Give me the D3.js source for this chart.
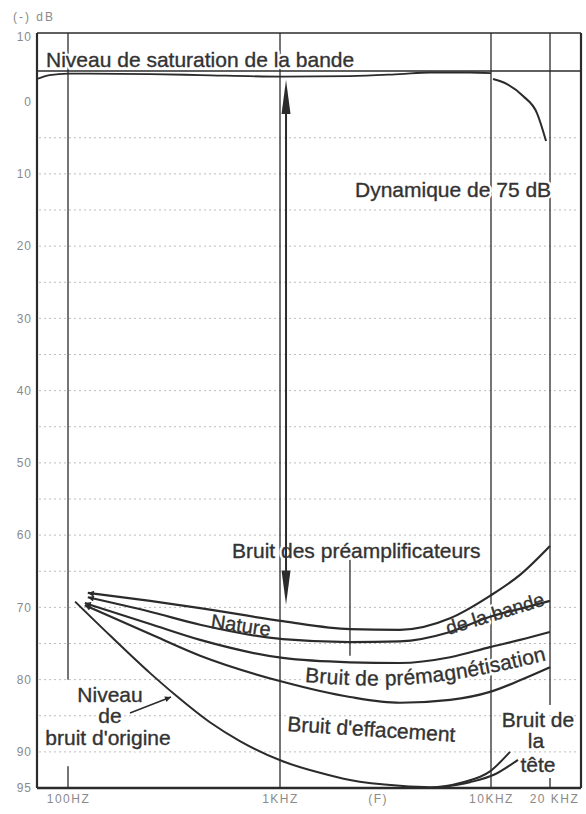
<!DOCTYPE html>
<html><head><meta charset="utf-8">
<script src="https://cdn.jsdelivr.net/npm/d3@7"></script>
<style>
body{margin:0;background:#fff}
svg{display:block}
text{font-family:"Liberation Sans",Arial,Helvetica,sans-serif}
</style>
</head><body>
<svg id="c" width="586" height="814"></svg>
<script>
// ---------- data ----------
const yTickValues = [-9, 0, 10, 20, 30, 40, 50, 60, 70, 80, 90, 95];
const yTickLabels = ["10", "0", "10", "20", "30", "40", "50", "60", "70", "80", "90", "95"];
const xTickValues = [100, 1000, 2900, 10000, 20000];
const xTickLabels = ["100HZ", "1KHZ", "(F)", "10KHZ", "20 KHZ"];
const gridDb = [5, 10, 15, 20, 25, 30, 35, 40, 45, 50, 55, 60, 65, 70, 75, 80, 85, 90];

// vertical reference lines: frequency and dB extents (segments)
const vFreqs = [100, 100, 1000, 10000, 20000, 20000, 2146];
const vFrom  = [-9.5, 92, -9.5, -9.5, -9.5, 93.6, 63.4];
const vTo    = [80, 95, 95, 95, 83.5, 95, 76.7];

// saturation level of the tape
const satRefDb = -4.24;
const satFreq = [71.6, 82, 100, 244, 420, 1030, 2146, 3700, 5140, 7950, 10000];
const satDb   = [-3.13, -3.68, -3.89, -3.82, -3.68, -3.47, -3.54, -3.82, -4.03, -4.03, -3.96];
const satDropFreq = [10240, 12070, 14570, 17160, 19090];
const satDropDb   = [-3.13, -2.44, -0.78, 1.58, 5.45];

// noise curves
const noiseFreq  = [124, 244, 420, 1030, 2146, 3700, 6400, 9890, 14060, 20000];
const preampDb   = [68.0, 69.1, 70.1, 71.9, 73.0, 73.1, 71.5, 68.4, 65.5, 61.5];
const tapeDb     = [68.6, 70.6, 72.4, 74.4, 74.8, 74.7, 73.4, 71.3, 70.2, 69.1];
const biasFreq   = [120, 244, 420, 1030, 2146, 3700, 6400, 9890, 14060, 20000];
const biasHiDb   = [69.4, 72.3, 74.5, 77.0, 77.6, 77.7, 76.9, 75.5, 74.5, 73.4];
const biasLoDb   = [69.7, 73.7, 76.7, 80.3, 82.4, 83.2, 82.8, 81.7, 80.1, 78.3];
const eraseFreq  = [108, 158, 244, 320, 467, 647, 1030, 1547, 2146, 3700, 5140, 7130, 9890, 12500];
const eraseDb    = [69.2, 73.9, 79.1, 82.1, 85.9, 88.5, 91.3, 92.9, 93.9, 94.7, 94.9, 94.3, 92.7, 90.0];
const headFreq   = [5730, 7950, 10480, 13730];
const headDb     = [94.9, 94.2, 93.1, 91.1];

// dynamic range arrow (dB)
const dynFreq = 1068;
const dynDb = [-3.0, 69.6];

// ---------- drawing ----------
const svg = d3.select("#c");
const ink = "#2b2b2b";
const x = d3.scaleLog().domain([71.6, 100, 1000, 10000, 20000, 28780]).range([37, 68, 280, 491, 550, 581]);
const y = d3.scaleLinear().domain([-9.5, 95]).range([33, 788]);
const X0 = x.range()[0], X1 = x.range()[x.range().length - 1];
const Y0 = y.range()[0], Y1 = y.range()[1];

svg.append("rect").attr("width", 586).attr("height", 814).attr("fill", "#fff");

const defs = svg.append("defs");
defs.append("marker").attr("id", "ah").attr("viewBox", "0 0 10 10")
  .attr("refX", 10).attr("refY", 5).attr("markerWidth", 9).attr("markerHeight", 6)
  .attr("markerUnits", "userSpaceOnUse").attr("orient", "auto-start-reverse")
  .append("path").attr("d", "M0,0 L10,5 L0,10 z").attr("fill", ink);

// dotted grid
svg.append("g").selectAll("line").data(gridDb).join("line")
  .attr("x1", X0 + 2).attr("x2", X1 - 2)
  .attr("y1", d => y(d)).attr("y2", d => y(d))
  .attr("stroke", "#bdbdbd").attr("stroke-width", 1).attr("stroke-dasharray", "2,3");

// vertical lines
svg.append("g").selectAll("line").data(vFreqs).join("line")
  .attr("x1", d => x(d)).attr("x2", d => x(d))
  .attr("y1", (d, i) => y(vFrom[i])).attr("y2", (d, i) => y(vTo[i]))
  .attr("stroke", ink).attr("stroke-width", 1.3);

// annotations (layout)
const annos = [
  {t: "Niveau de saturation de la bande", x: 46, y: 67, a: "start", r: 0},
  {t: "Dynamique de 75 dB", x: 355, y: 197, a: "start", r: 0},
  {t: "Bruit des préamplificateurs", x: 232, y: 558, a: "start", r: 0},
  {t: "Nature", x: 240, y: 632, a: "middle", r: 8, s: 20},
  {t: "de la bande", x: 497, y: 620, a: "middle", r: -17, s: 19.5},
  {t: "Bruit d'effacement", x: 287, y: 731, a: "start", r: 3.7},
  {t: "Bruit de", x: 538, y: 727, a: "middle", r: 0},
  {t: "la", x: 536, y: 748, a: "middle", r: 0},
  {t: "tête", x: 538, y: 772, a: "middle", r: 0},
  {t: "Niveau", x: 110, y: 702, a: "middle", r: 0},
  {t: "de", x: 110, y: 723, a: "middle", r: 0},
  {t: "bruit d'origine", x: 108, y: 745, a: "middle", r: 0}
];
const magPts = [[305, 682], [350, 685], [400, 685], [450, 680], [500, 671], [552, 659]];
defs.append("path").attr("id", "magpath").attr("d", d3.line().curve(d3.curveCatmullRom)(magPts));

function drawTexts(g, halo) {
  g.selectAll("text.a").data(annos).join("text").attr("class", "a")
    .attr("transform", d => `translate(${d.x},${d.y}) rotate(${d.r})`)
    .attr("text-anchor", d => d.a)
    .attr("font-size", d => d.s || 21)
    .attr("fill", halo ? "#fff" : "#333")
    .attr("stroke", halo ? "#fff" : "#333")
    .attr("stroke-width", halo ? 5 : 0.35)
    .attr("stroke-linejoin", "round")
    .text(d => d.t);
  g.append("text").attr("font-size", 21)
    .attr("fill", halo ? "#fff" : "#333")
    .attr("stroke", halo ? "#fff" : "#333").attr("stroke-width", halo ? 5 : 0.35)
    .append("textPath").attr("href", "#magpath").attr("startOffset", 0)
    .attr("textLength", 244).attr("lengthAdjust", "spacing")
    .text("Bruit de prémagnétisation");
}
drawTexts(svg.append("g"), true);

// frame
svg.append("line").attr("x1", X0).attr("x2", X1).attr("y1", Y0).attr("y2", Y0).attr("stroke", ink).attr("stroke-width", 1.6);
svg.append("line").attr("x1", X0).attr("x2", X0).attr("y1", Y0).attr("y2", Y1).attr("stroke", ink).attr("stroke-width", 2.2);
svg.append("line").attr("x1", X1).attr("x2", X1).attr("y1", Y0).attr("y2", Y1).attr("stroke", ink).attr("stroke-width", 2.2);
svg.append("line").attr("x1", X0).attr("x2", X1).attr("y1", Y1).attr("y2", Y1).attr("stroke", ink).attr("stroke-width", 2.4);

// saturation reference
svg.append("line").attr("x1", X0).attr("x2", X1).attr("y1", y(satRefDb)).attr("y2", y(satRefDb))
  .attr("stroke", ink).attr("stroke-width", 1.4);

const line = d3.line().x(d => x(d[0])).y(d => y(d[1])).curve(d3.curveMonotoneX);
const zip = (f, v) => f.map((d, i) => [d, v[i]]);
const curves = [
  {f: satFreq, v: satDb, w: 1.8},
  {f: satDropFreq, v: satDropDb, w: 2},
  {f: noiseFreq, v: preampDb, w: 2.2, m: true},
  {f: noiseFreq, v: tapeDb, w: 2.2, m: true},
  {f: biasFreq, v: biasHiDb, w: 2.2, m: true},
  {f: biasFreq, v: biasLoDb, w: 2.2, m: true},
  {f: eraseFreq, v: eraseDb, w: 2},
  {f: headFreq, v: headDb, w: 2}
];
svg.append("g").selectAll("path").data(curves).join("path")
  .attr("d", d => line(zip(d.f, d.v)))
  .attr("fill", "none").attr("stroke", ink)
  .attr("stroke-width", d => d.w)
  .attr("marker-start", d => d.m ? "url(#ah)" : null);

// dynamic arrow
const ax = x(dynFreq), ya = y(dynDb[0]), yb = y(dynDb[1]);
svg.append("line").attr("x1", ax).attr("x2", ax).attr("y1", ya + 10).attr("y2", yb - 10)
  .attr("stroke", ink).attr("stroke-width", 2);
svg.append("path").attr("d", `M${ax},${ya} L${ax + 4.5},${ya + 34} L${ax - 4.5},${ya + 34} Z`).attr("fill", ink);
svg.append("path").attr("d", `M${ax},${yb} L${ax + 4.5},${yb - 34} L${ax - 4.5},${yb - 34} Z`).attr("fill", ink);

// pointer for "Niveau de bruit d'origine"
svg.append("line").attr("x1", 130).attr("y1", 713).attr("x2", 171).attr("y2", 697)
  .attr("stroke", ink).attr("stroke-width", 1.4).attr("marker-end", "url(#ah)");

drawTexts(svg.append("g"), false);

// axes
const yAxis = svg.append("g").attr("transform", `translate(${X0},0)`)
  .call(d3.axisLeft(y).tickValues(yTickValues).tickFormat((d, i) => yTickLabels[i]).tickSize(0).tickPadding(5));
const xAxis = svg.append("g").attr("transform", `translate(0,${Y1})`)
  .call(d3.axisBottom(x).tickValues(xTickValues).tickFormat((d, i) => xTickLabels[i]).tickSize(0).tickPadding(6));
[yAxis, xAxis].forEach(g => {
  g.select(".domain").remove();
  g.selectAll("text").attr("fill", "#8a8a8a").attr("font-size", 12)
    .attr("font-family", "'Liberation Sans', Arial, sans-serif");
});
yAxis.selectAll("text").attr("letter-spacing", 1);
xAxis.selectAll("text").attr("letter-spacing", 1.5).attr("dx", (d, i) => i === 4 ? 4 : 0);

svg.append("text").attr("x", 13).attr("y", 21).attr("font-size", 12).attr("fill", "#8a8a8a")
  .attr("letter-spacing", 2).text("(-) dB");
</script>
</body></html>
